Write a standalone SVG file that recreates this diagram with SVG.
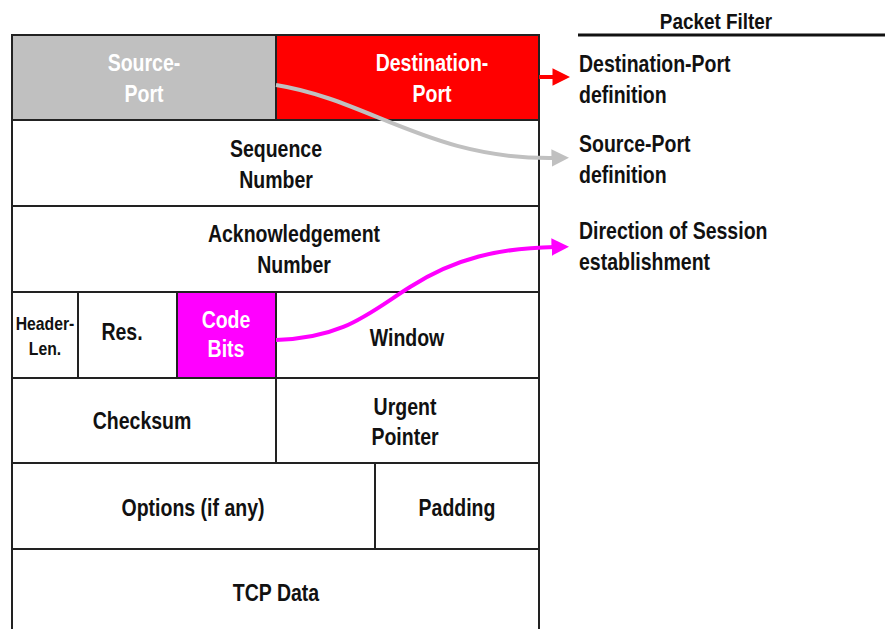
<svg xmlns="http://www.w3.org/2000/svg" width="885" height="629" viewBox="0 0 885 629">
  <style>
    text { font-family: "Liberation Sans", Arial, sans-serif; font-weight: bold; font-size: 23.5px; fill: #111; }
    .c { text-anchor: middle; }
    .w { fill: #fff; }
    .sm { font-size: 19px; }
    .hd { font-size: 22px; }
    .cell { stroke: #222; stroke-width: 2; }
    .conn { fill: none; stroke-width: 4; }
  </style>
  <defs>
    <marker id="ahRed" viewBox="0 0 10 10" refX="2" refY="5" markerWidth="4.4" markerHeight="5" orient="auto" markerUnits="strokeWidth">
      <path d="M0,0 L10,5 L0,10 z" fill="#ff0000"/>
    </marker>
    <marker id="ahGray" viewBox="0 0 10 10" refX="2" refY="5" markerWidth="4.4" markerHeight="5" orient="auto" markerUnits="strokeWidth">
      <path d="M0,0 L10,5 L0,10 z" fill="#c0c0c0"/>
    </marker>
    <marker id="ahMag" viewBox="0 0 10 10" refX="2" refY="5" markerWidth="4.4" markerHeight="5" orient="auto" markerUnits="strokeWidth">
      <path d="M0,0 L10,5 L0,10 z" fill="#ff00ff"/>
    </marker>
  </defs>

  <!-- TCP header fields; labels use a condensed bold face (scaled horizontally) -->
  <g id="source-port">
    <rect class="cell" x="12" y="35" width="264" height="85" fill="#c0c0c0"/>
    <text class="c w" transform="translate(144 71) scale(.83 1)">Source-</text>
    <text class="c w" transform="translate(144 102) scale(.83 1)">Port</text>
  </g>
  <g id="destination-port">
    <rect class="cell" x="276" y="35" width="263" height="85" fill="#ff0000"/>
    <text class="c w" transform="translate(432 71) scale(.83 1)">Destination-</text>
    <text class="c w" transform="translate(432 102) scale(.83 1)">Port</text>
  </g>
  <g id="sequence-number">
    <rect class="cell" x="12" y="120" width="527" height="86" fill="#fff"/>
    <text class="c" transform="translate(276 157) scale(.83 1)">Sequence</text>
    <text class="c" transform="translate(276 188) scale(.83 1)">Number</text>
  </g>
  <g id="ack-number">
    <rect class="cell" x="12" y="206" width="527" height="86" fill="#fff"/>
    <text class="c" transform="translate(294 242) scale(.83 1)">Acknowledgement</text>
    <text class="c" transform="translate(294 273) scale(.83 1)">Number</text>
  </g>
  <g id="header-len">
    <rect class="cell" x="12" y="292" width="66" height="86" fill="#fff"/>
    <text class="c sm" transform="translate(45 330) scale(.83 1)">Header-</text>
    <text class="c sm" transform="translate(45 355) scale(.83 1)">Len.</text>
  </g>
  <g id="reserved">
    <rect class="cell" x="78" y="292" width="99" height="86" fill="#fff"/>
    <text class="c" transform="translate(122 340) scale(.83 1)">Res.</text>
  </g>
  <g id="code-bits">
    <rect class="cell" x="177" y="292" width="99" height="86" fill="#ff00ff"/>
    <text class="c w" transform="translate(226 328) scale(.83 1)">Code</text>
    <text class="c w" transform="translate(226 357) scale(.83 1)">Bits</text>
  </g>
  <g id="window">
    <rect class="cell" x="276" y="292" width="263" height="86" fill="#fff"/>
    <text class="c" transform="translate(407 346) scale(.83 1)">Window</text>
  </g>
  <g id="checksum">
    <rect class="cell" x="12" y="378" width="264" height="85" fill="#fff"/>
    <text class="c" transform="translate(142 429) scale(.83 1)">Checksum</text>
  </g>
  <g id="urgent-pointer">
    <rect class="cell" x="276" y="378" width="263" height="85" fill="#fff"/>
    <text class="c" transform="translate(405 415) scale(.83 1)">Urgent</text>
    <text class="c" transform="translate(405 445) scale(.83 1)">Pointer</text>
  </g>
  <g id="options">
    <rect class="cell" x="12" y="463" width="363" height="86" fill="#fff"/>
    <text class="c" transform="translate(193 516) scale(.83 1)">Options (if any)</text>
  </g>
  <g id="padding">
    <rect class="cell" x="375" y="463" width="164" height="86" fill="#fff"/>
    <text class="c" transform="translate(457 516) scale(.83 1)">Padding</text>
  </g>
  <g id="tcp-data">
    <rect class="cell" x="12" y="549" width="527" height="90" fill="#fff"/>
    <text class="c" transform="translate(276 601) scale(.83 1)">TCP Data</text>
  </g>

  <!-- Packet filter criteria -->
  <g id="packet-filter">
    <text class="c hd" transform="translate(716 29) scale(.86 1)">Packet Filter</text>
    <line x1="578" y1="35" x2="885" y2="35" stroke="#111" stroke-width="3"/>
  </g>
  <g id="dst-def">
    <text transform="translate(579 72) scale(.83 1)">Destination-Port</text>
    <text transform="translate(579 103) scale(.83 1)">definition</text>
  </g>
  <g id="src-def">
    <text transform="translate(579 152) scale(.83 1)">Source-Port</text>
    <text transform="translate(579 183) scale(.83 1)">definition</text>
  </g>
  <g id="dir-def">
    <text transform="translate(579 239) scale(.83 1)">Direction of Session</text>
    <text transform="translate(579 270) scale(.83 1)">establishment</text>
  </g>

  <!-- Connectors -->
  <g id="connectors">
    <path class="conn" d="M539,77 L556,77" stroke="#ff0000" marker-end="url(#ahRed)"/>
    <path class="conn" d="M276,85 C370,100 430,160 555,158" stroke="#c0c0c0" marker-end="url(#ahGray)"/>
    <path class="conn" d="M276,340 C345,338 370,312 410,287 C455,258 500,248 555,247" stroke="#ff00ff" marker-end="url(#ahMag)"/>
  </g>
</svg>
